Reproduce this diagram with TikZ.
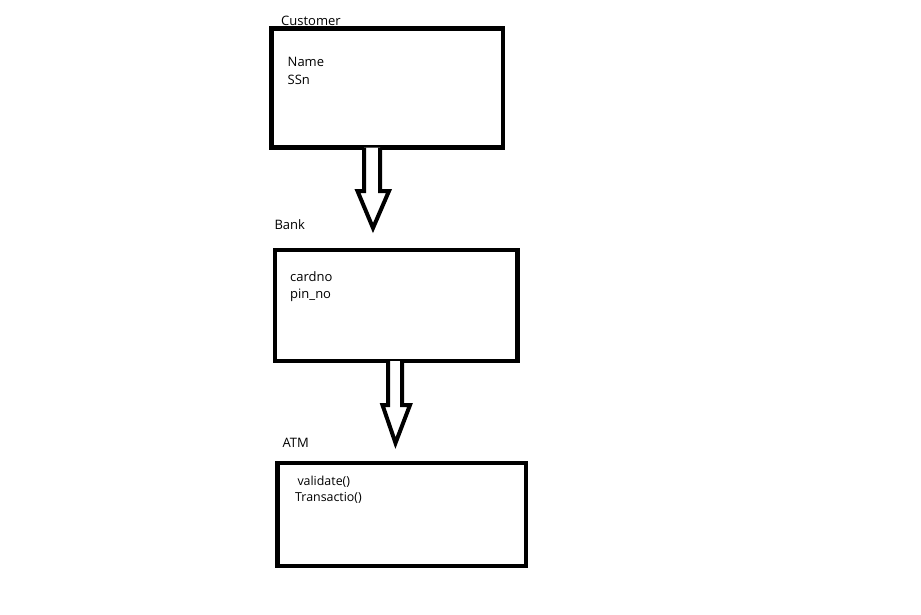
\documentclass[tikz,border=0pt]{standalone}
\usepackage{fontspec}
\setmainfont{Open Sans}
\begin{document}
\begin{tikzpicture}[x=1pt,y=-1pt,
  classbox/.style={draw=black,line width=4.7pt,fill=none,inner sep=0pt,outer sep=0pt},
  lbl/.style={anchor=base west,inner sep=0pt,font=\fontsize{13pt}{15pt}\selectfont},
  smalllbl/.style={lbl,font=\fontsize{12.4pt}{15pt}\selectfont},
  hollowarrow/.style={draw=black,line width=4pt,line join=miter,fill=white}]
  \useasboundingbox[fill=white] (0,0) rectangle (921,614);

  % class boxes
  \node[classbox,minimum width=231.5pt,minimum height=119pt] (customer) at (387.25,88) {};
  \node[classbox,minimum width=242.5pt,minimum height=111pt] (bank) at (396.25,305.5) {};
  \node[classbox,minimum width=248.5pt,minimum height=103pt] (atm) at (401.75,514.5) {};

  % titles and members
  \node[lbl] (customertitle) at (281,25.5) {Customer};
  \node[lbl] (name) at (287.5,66) {Name};
  \node[lbl] (ssn) at (287.5,84) {SSn};
  \node[lbl] (banktitle) at (274.3,229.5) {Bank};
  \node[lbl] (cardno) at (290,281.5) {cardno};
  \node[lbl] (pinno) at (290,298.5) {pin\_no};
  \node[lbl] (atmtitle) at (282.3,447) {ATM};
  \node[smalllbl] (validate) at (297.3,485.5) {validate()};
  \node[smalllbl] (transactio) at (295,501) {Transactio()};

  % hollow block arrows between the boxes
  \coordinate (c2b) at (372,147.5);
  \coordinate (c2btip) at (373,228);
  \draw[hollowarrow] ([xshift=-8pt]c2b) -- ([xshift=-8pt]c2b |- 0,191) -- (357.5,191)
     -- (c2btip) -- (389,191) -- ([xshift=8pt]c2b |- 0,191) -- ([xshift=8pt]c2b);

  \coordinate (b2a) at (395,361);
  \coordinate (b2atip) at (395.5,443);
  \draw[hollowarrow] ([xshift=-7pt]b2a) -- ([xshift=-7pt]b2a |- 0,405) -- (382.5,405)
     -- (b2atip) -- (410,405) -- ([xshift=7pt]b2a |- 0,405) -- ([xshift=7pt]b2a);
\end{tikzpicture}
\end{document}
